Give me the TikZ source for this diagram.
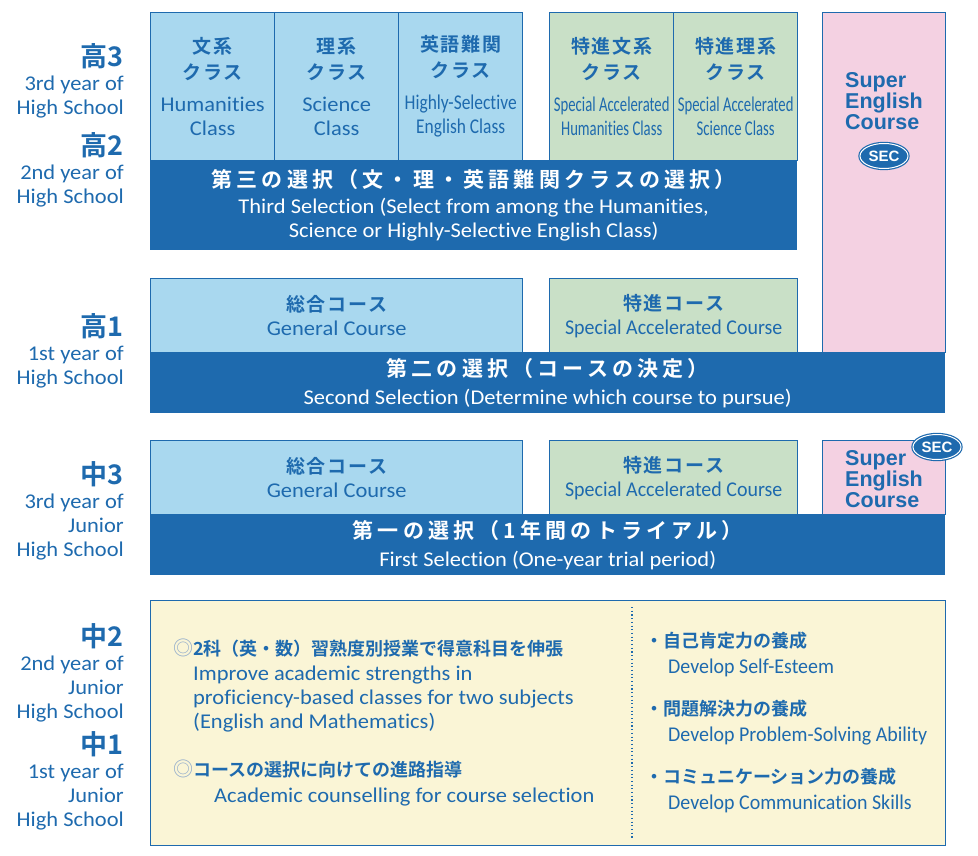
\documentclass[tikz,border=0pt]{standalone}
\usepackage{fontspec}
\setmainfont{Carlito}[FakeStretch=1.07, Ligatures=NoCommon]
\newfontfamily\jpfont{Noto Sans CJK JP Bold}
\newfontfamily\jpsp{Noto Sans CJK JP Bold}[LetterSpace=9]
\newfontfamily\jpwide{Noto Sans CJK JP Bold}[LetterSpace=20]
\newfontfamily\jplight{Noto Sans CJK JP}
\newfontfamily\ennarrow{Carlito}[FakeStretch=0.95, Ligatures=NoCommon]
\newfontfamily\enslim{Carlito}[FakeStretch=0.83, Ligatures=NoCommon]
\newfontfamily\entight{Carlito}[FakeStretch=0.70, Ligatures=NoCommon]
\newfontfamily\secfont{Liberation Sans Bold}
\usetikzlibrary {
  positioning,
  shapes.geometric,
}
\definecolor{navy}{HTML}{1E6AAE}
\definecolor{sky}{HTML}{A9D8EF}
\definecolor{mint}{HTML}{C9E0C7}
\definecolor{rose}{HTML}{F4D1E2}
\definecolor{cream}{HTML}{FAF5D6}
\definecolor{ring}{HTML}{8FAACB}
\tikzset{
  box/.style = {
    rectangle,
    draw = navy,
    line width = 1.4pt,
    anchor = north west,
    align = center,
    inner sep = 0pt,
    text = navy,
    font = \fontsize{21}{24}\selectfont
  },
  cls/.style = {box, fill = sky},
  spc/.style = {box, fill = mint},
  eng/.style = {box, fill = rose},
  band/.style = {
    rectangle,
    fill = navy,
    anchor = north west,
    align = center,
    inner sep = 0pt,
    text = white,
    font = \fontsize{21}{24}\selectfont
  },
  year/.style = {
    anchor = east,
    align = right,
    inner sep = 0pt,
    text = navy,
    font = \fontsize{21}{24}\selectfont
  },
  sec/.style = {
    ellipse,
    fill = navy,
    draw = white,
    line width = 1pt,
    preaction = {draw = navy, line width = 3.4pt},
    inner sep = 0pt,
    minimum width = 48pt,
    minimum height = 25pt,
    text = white,
    font = \secfont\fontsize{15}{15}\selectfont
  },
  secname/.style = {
    align = left,
    inner sep = 0pt,
    text = navy,
    font = \secfont\fontsize{21.5}{21}\selectfont
  },
  item/.style = {
    anchor = west,
    align = left,
    inner sep = 0pt,
    text = navy,
    font = \fontsize{21}{24}\selectfont
  },
  divider/.style = {
    navy,
    line width = 1.1pt,
    dash pattern = on 1.1pt off 2.6pt
  },
}
\newcommand{\yr}[1]{{\jpfont\fontsize{27}{28}\selectfont #1}}
\newcommand{\jc}[1]{{\jpsp\fontsize{19}{27}\selectfont #1}}
\newcommand{\jb}[1]{{\jpwide\fontsize{21}{24}\selectfont #1}}
\newcommand{\jt}[1]{{\jpfont\fontsize{18}{20}\selectfont #1}}
\newcommand{\dm}{{\jplight\fontsize{20}{20}\selectfont\color{ring}◎}}

\begin{document}
\begin{tikzpicture}[x = 1pt, y = -1pt]
  \useasboundingbox (0,0) rectangle (978,856);

  % year labels
  \node[year] (k3) at (124,81) {\yr{高3}\\[0pt] 3rd year of\\ High School};
  \node[year] (k2) at (124,170) {\yr{高2}\\[0pt] 2nd year of\\ High School};
  \node[year] (k1) at (124,351) {\yr{高1}\\[0pt] 1st year of\\ High School};
  \node[year] (c3) at (124,511) {\yr{中3}\\[0pt] 3rd year of\\ Junior\\ High School};
  \node[year] (c2) at (124,673) {\yr{中2}\\[0pt] 2nd year of\\ Junior\\ High School};
  \node[year] (c1) at (124,781) {\yr{中1}\\[0pt] 1st year of\\ Junior\\ High School};

  % third selection
  \node[cls, minimum width = 124pt, minimum height = 148pt] (hum) at (150,12)
    {\jc{文系}\\[2pt] \jc{クラス}\\[8pt] Humanities\\ Class};
  \node[cls, minimum width = 124pt, minimum height = 148pt] (sci) at (274,12)
    {\jc{理系}\\[2pt] \jc{クラス}\\[8pt] Science\\ Class};
  \node[cls, minimum width = 124pt, minimum height = 148pt] (hse) at (398,12)
    {\jc{英語難関}\\[2pt] \jc{クラス}\\[8pt] {\enslim Highly-Selective}\\ {\enslim English Class}};
  \node[spc, minimum width = 124pt, minimum height = 148pt] (sah) at (549,12)
    {\jc{特進文系}\\[2pt] \jc{クラス}\\[8pt] {\entight Special Accelerated}\\ {\entight Humanities Class}};
  \node[spc, minimum width = 124pt, minimum height = 148pt] (sas) at (673,12)
    {\jc{特進理系}\\[2pt] \jc{クラス}\\[8pt] {\entight Special Accelerated}\\ {\entight Science Class}};
  \node[band, minimum width = 647pt, minimum height = 90pt] (sel3) at (150,160)
    {\jb{第三の選択（文・理・英語難関クラスの選択）}\\[2pt]
     Third Selection (Select from among the Humanities,\\
     Science or Highly-Selective English Class)};
  \node[eng, minimum width = 123pt, minimum height = 340pt] (sec3) at (822,12) {};
  \node[secname] (sec3n) at (884,101) {Super\\ English\\ Course};
  \node[sec] (sec3b) at (884,156) {SEC};

  % second selection
  \node[cls, minimum width = 372pt, minimum height = 74pt] (gen1) at (150,278)
    {\jc{総合コース}\\ General Course};
  \node[spc, minimum width = 248pt, minimum height = 74pt] (acc1) at (549,278)
    {\jc{特進コース}\\ {\ennarrow Special Accelerated Course}};
  \node[band, minimum width = 795pt, minimum height = 61pt] (sel2) at (150,352)
    {\jb{第二の選択（コースの決定）}\\[4pt]
     Second Selection (Determine which course to pursue)};

  % first selection
  \node[cls, minimum width = 372pt, minimum height = 74pt] (gen3) at (150,440)
    {\jc{総合コース}\\ General Course};
  \node[spc, minimum width = 248pt, minimum height = 74pt] (acc3) at (549,440)
    {\jc{特進コース}\\ {\ennarrow Special Accelerated Course}};
  \node[eng, minimum width = 123pt, minimum height = 74pt] (sec1) at (822,440) {};
  \node[secname] (sec1n) at (884,479) {Super\\ English\\ Course};
  \node[sec] (sec1b) at (937,447) {SEC};
  \node[band, minimum width = 795pt, minimum height = 61pt] (sel1) at (150,514)
    {\jb{第一の選択（1年間のトライアル）}\\[4pt]
     First Selection (One-year trial period)};

  % junior 1-2
  \node[box, fill = cream, minimum width = 795pt, minimum height = 245pt] (base) at (150,600) {};
  \coordinate (dtop) at (632,607);
  \coordinate (dbot) at (632,840);
  \draw[divider] (dtop) -- (dbot);

  \node[item] (p1) at (173,648) {\dm\jt{2科（英・数）習熟度別授業で得意科目を伸張}};
  \node[item, anchor = north west] (p1e) at (193,666)
    {Improve academic strengths in\\ proficiency-based classes for two subjects\\ (English and Mathematics)};
  \node[item] (p2) at (173,769) {\dm\jt{コースの選択に向けての進路指導}};
  \node[item] (p2e) at (214,797) {Academic counselling for course selection};

  \node[item] (r1) at (645,641) {\jt{・自己肯定力の養成}};
  \node[item, font = \ennarrow\fontsize{21}{24}\selectfont] (r1e) at (668,668) {Develop Self-Esteem};
  \node[item] (r2) at (645,709) {\jt{・問題解決力の養成}};
  \node[item, font = \ennarrow\fontsize{21}{24}\selectfont] (r2e) at (668,736) {Develop Problem-Solving Ability};
  \node[item] (r3) at (645,777) {\jt{・コミュニケーション力の養成}};
  \node[item, font = \ennarrow\fontsize{21}{24}\selectfont] (r3e) at (668,804) {Develop Communication Skills};
\end{tikzpicture}
\end{document}
